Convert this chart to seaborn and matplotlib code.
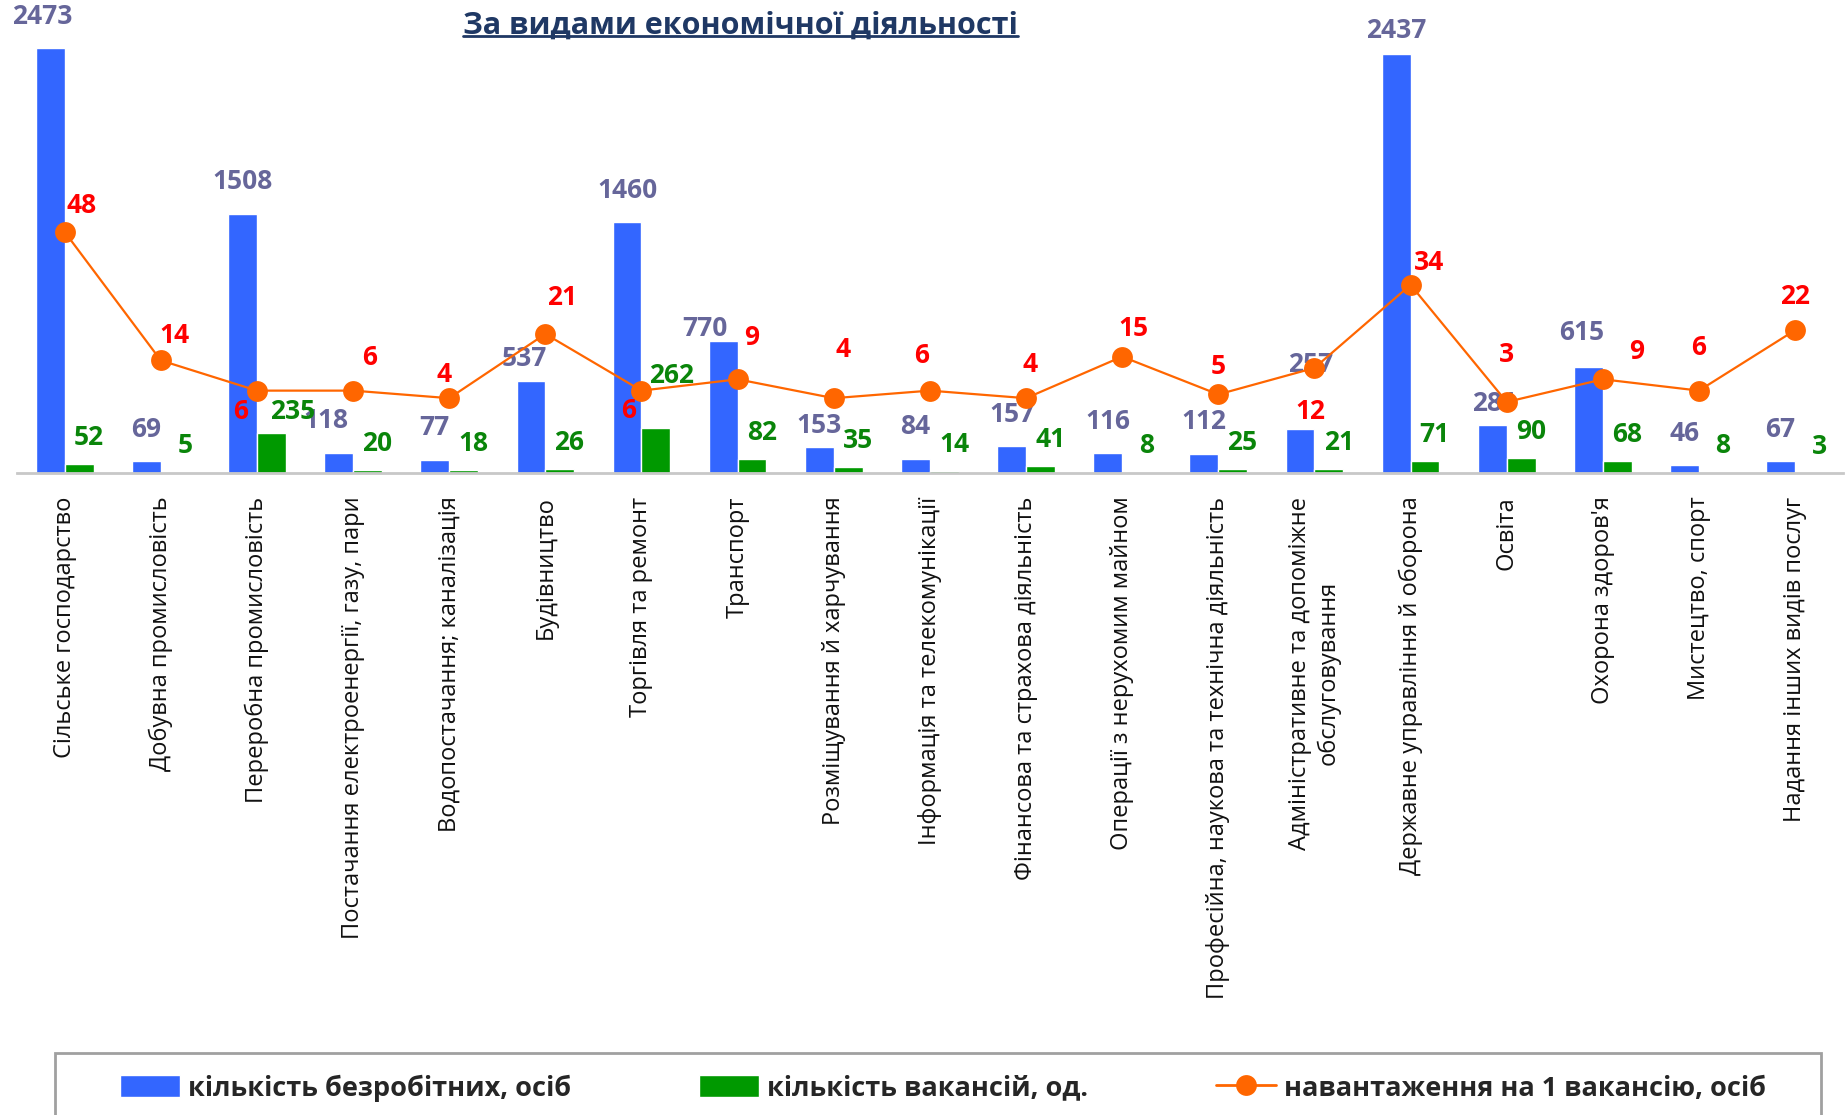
import matplotlib
matplotlib.use("Agg")
import matplotlib.pyplot as plt
import seaborn as sns
import numpy as np
import pandas as pd
from matplotlib.patches import Patch, Rectangle
from matplotlib.lines import Line2D

# ==============================
# DATA
# ==============================
categories = [
    "Сільське господарство",
    "Добувна промисловість",
    "Переробна промисловість",
    "Постачання електроенергії, газу, пари",
    "Водопостачання; каналізація",
    "Будівництво",
    "Торгівля та ремонт",
    "Транспорт",
    "Розміщування й харчування",
    "Інформація та телекомунікації",
    "Фінансова та страхова діяльність",
    "Операції з нерухомим майном",
    "Професійна, наукова та технічна діяльність",
    "Адміністративне та допоміжне\nобслуговування",
    "Державне управління й оборона",
    "Освіта",
    "Охорона здоров'я",
    "Мистецтво, спорт",
    "Надання інших видів послуг",
]
unemployed = [2473, 69, 1508, 118, 77, 537, 1460, 770, 153, 84, 157, 116, 112, 257, 2437, 281, 615, 46, 67]
vacancies = [52, 5, 235, 20, 18, 26, 262, 82, 35, 14, 41, 8, 25, 21, 71, 90, 68, 8, 3]
load = [48, 14, 6, 6, 4, 21, 6, 9, 4, 6, 4, 15, 5, 12, 34, 3, 9, 6, 22]

lbl_unemp = "кількість безробітних, осіб"
lbl_vac = "кількість вакансій, од."
lbl_load = "навантаження на 1 вакансію, осіб"

# label nudges (points)
blue_off = {0: (-6, 23), 3: (-9, 23), 5: (-5, 16), 7: (-13, 9), 8: (0, 15),
            13: (8, 46), 14: (0, 17), 15: (2, 15), 16: (-5, 25)}
green_off = {2: (15, 15), 6: (11, 38)}
red_off = [(12, 19), (10, 18), (-12, -15), (12, 24), (-4, 17), (12, 26), (-9, -14),
           (10, 30), (7, 35), (-6, 25), (3, 24), (8, 20), (0, 20), (-3, -31),
           (13, 16), (0, 34), (24, 20), (0, 31), (0, 24)]

BLUE = "#3366FF"
GREEN = "#009900"
ORANGE = "#FF6600"

sns.set_style("white")
plt.rcParams['font.family'] = ['Open Sans', 'DejaVu Sans']

df = pd.DataFrame({
    'cat': categories * 2,
    'value': unemployed + vacancies,
    'series': [lbl_unemp] * len(categories) + [lbl_vac] * len(categories),
})

fig = plt.figure(figsize=(18.45, 11.15), dpi=100)
ax = fig.add_axes([0.009, 0.5758, 0.99, 0.4242])

sns.barplot(data=df, x='cat', y='value', hue='series', order=categories,
            palette=[BLUE, GREEN], width=0.6, ax=ax, legend=False,
            saturation=1)

ax.set_xlim(-0.5, len(categories) - 0.5)
ax.set_ylim(0, 2752)
ax.set_xlabel("")
ax.set_ylabel("")
ax.set_yticks([])
ax.set_xticks(range(len(categories)))
ax.set_xticklabels(categories, rotation=90, fontsize=17, color='#111111',
                   ha='center', va='top', multialignment='center')
ax.tick_params(axis='x', length=0, pad=17)
for s in ['top', 'left', 'right']:
    ax.spines[s].set_visible(False)
ax.spines['bottom'].set_color('#C8C8C8')
ax.spines['bottom'].set_linewidth(2)

# bar labels
for i, v in enumerate(unemployed):
    dx, dy = blue_off.get(i, (0, 23))
    ax.annotate(str(v), (i - 0.15, v), xytext=(dx, dy), textcoords='offset points',
                ha='center', va='center', fontsize=19, fontweight='bold',
                color='#66669A')
for i, v in enumerate(vacancies):
    dx, dy = green_off.get(i, (7, 19))
    ax.annotate(str(v), (i + 0.15, v), xytext=(dx, dy), textcoords='offset points',
                ha='center', va='center', fontsize=19, fontweight='bold',
                color='#0A850A')

# line on secondary axis
ax2 = ax.twinx()
x_pos = np.arange(len(categories))
sns.lineplot(x=x_pos, y=load, ax=ax2, color=ORANGE, linewidth=1.6,
             marker='o', markersize=15, markeredgewidth=0)
ax2.set_ylim(-15.8, 109.4)
ax2.set_yticks([])
ax2.set_ylabel("")
for s in ax2.spines.values():
    s.set_visible(False)
for i, v in enumerate(load):
    dx, dy = red_off[i]
    ax2.annotate(str(v), (i, v), xytext=(dx, dy), textcoords='offset points',
                 ha='center', va='center', fontsize=19, fontweight='bold',
                 color='#FF0000')

# title with underline
title = fig.text(0.4015, 0.977, "За видами економічної діяльності", ha='center',
                 va='center', fontsize=22, fontweight='bold', color='#1F3864')
fig.canvas.draw()
bb = title.get_window_extent(fig.canvas.get_renderer()).transformed(fig.transFigure.inverted())
fig.add_artist(Line2D([bb.x0, bb.x1], [bb.y0 + 0.004, bb.y0 + 0.004],
                      color='#1F3864', linewidth=2, transform=fig.transFigure))

# legend box at the bottom
fig.add_artist(Rectangle((0.030, -0.05), 0.957, 0.1059, transform=fig.transFigure,
                         facecolor='none', edgecolor='#A0A0A0', linewidth=2))
handles = [
    Patch(facecolor=BLUE, label=lbl_unemp),
    Patch(facecolor=GREEN, label=lbl_vac),
    Line2D([], [], color=ORANGE, marker='o', markersize=15, linewidth=2,
           markeredgewidth=0, label=lbl_load),
]
fig.legend(handles=handles, loc='center left', bbox_to_anchor=(0.065, 0.0243, 0.892, 0),
           mode='expand', ncol=3, frameon=False, borderpad=0, borderaxespad=0,
           handlelength=2.2, handleheight=0.9, handletextpad=0.3,
           prop={'weight': 'bold', 'size': 19.5})

plt.savefig("out.png", dpi=100)
